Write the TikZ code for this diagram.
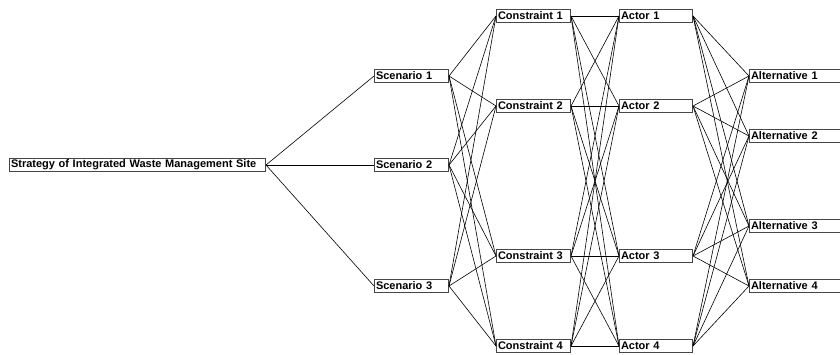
\documentclass[tikz,border=0pt]{standalone}
\usepackage{fontspec}
\setmainfont{Liberation Sans}
\tikzset{
    box/.style={draw=gray!55!black, line width=1pt, fill=white, anchor=west,
        font=\bfseries\fontsize{11}{12}\selectfont, inner xsep=1.5pt, inner ysep=0pt,
        minimum height=13.5pt, align=left},
    link/.style={line width=0.6pt, black}
}
\begin{document}
\begin{tikzpicture}[x=1pt,y=-1pt]
            \useasboundingbox (0,0) rectangle (840,354);

            \node[box, text width=253pt] (goal) at (9,165) {Strategy of Integrated Waste Management Site};

            \node[box, text width=71pt] (sc1) at (374,76) {Scenario 1};
            \node[box, text width=71pt] (sc2) at (374,165) {Scenario 2};
            \node[box, text width=71pt] (sc3) at (374,286) {Scenario 3};

            \node[box, text width=71pt] (con1) at (496,16) {Constraint 1};
            \node[box, text width=71pt] (con2) at (496,106) {Constraint 2};
            \node[box, text width=71pt] (con3) at (496,256) {Constraint 3};
            \node[box, text width=71pt] (con4) at (496,346) {Constraint 4};

            \node[box, text width=70pt] (act1) at (619,16) {Actor 1};
            \node[box, text width=70pt] (act2) at (619,106) {Actor 2};
            \node[box, text width=70pt] (act3) at (619,256) {Actor 3};
            \node[box, text width=70pt] (act4) at (619,346) {Actor 4};

            \node[box, text width=120pt] (alt1) at (749,76) {Alternative 1};
            \node[box, text width=120pt] (alt2) at (749,136) {Alternative 2};
            \node[box, text width=120pt] (alt3) at (749,226) {Alternative 3};
            \node[box, text width=120pt] (alt4) at (749,286) {Alternative 4};

            % goal to scenarios
            \draw[link] (goal.east) -- (sc1.west);
            \draw[link] (goal.east) -- (sc2.west);
            \draw[link] (goal.east) -- (sc3.west);

            % scenarios to constraints
            \draw[link] (sc1.east) -- (con1.west);
            \draw[link] (sc1.east) -- (con2.west);
            \draw[link] (sc1.east) -- (con3.west);
            \draw[link] (sc1.east) -- (con4.west);
            \draw[link] (sc2.east) -- (con1.west);
            \draw[link] (sc2.east) -- (con2.west);
            \draw[link] (sc2.east) -- (con3.west);
            \draw[link] (sc2.east) -- (con4.west);
            \draw[link] (sc3.east) -- (con1.west);
            \draw[link] (sc3.east) -- (con2.west);
            \draw[link] (sc3.east) -- (con3.west);
            \draw[link] (sc3.east) -- (con4.west);

            % constraints to actors
            \draw[link] (con1.east) -- (act1.west);
            \draw[link] (con1.east) -- (act2.west);
            \draw[link] (con1.east) -- (act3.west);
            \draw[link] (con1.east) -- (act4.west);
            \draw[link] (con2.east) -- (act1.west);
            \draw[link] (con2.east) -- (act2.west);
            \draw[link] (con2.east) -- (act3.west);
            \draw[link] (con2.east) -- (act4.west);
            \draw[link] (con3.east) -- (act1.west);
            \draw[link] (con3.east) -- (act2.west);
            \draw[link] (con3.east) -- (act3.west);
            \draw[link] (con3.east) -- (act4.west);
            \draw[link] (con4.east) -- (act1.west);
            \draw[link] (con4.east) -- (act2.west);
            \draw[link] (con4.east) -- (act3.west);
            \draw[link] (con4.east) -- (act4.west);

            % actors to alternatives
            \draw[link] (act1.east) -- (alt1.west);
            \draw[link] (act1.east) -- (alt2.west);
            \draw[link] (act1.east) -- (alt3.west);
            \draw[link] (act1.east) -- (alt4.west);
            \draw[link] (act2.east) -- (alt1.west);
            \draw[link] (act2.east) -- (alt2.west);
            \draw[link] (act2.east) -- (alt3.west);
            \draw[link] (act2.east) -- (alt4.west);
            \draw[link] (act3.east) -- (alt1.west);
            \draw[link] (act3.east) -- (alt2.west);
            \draw[link] (act3.east) -- (alt3.west);
            \draw[link] (act3.east) -- (alt4.west);
            \draw[link] (act4.east) -- (alt1.west);
            \draw[link] (act4.east) -- (alt2.west);
            \draw[link] (act4.east) -- (alt3.west);
            \draw[link] (act4.east) -- (alt4.west);
        \end{tikzpicture}
\end{document}
